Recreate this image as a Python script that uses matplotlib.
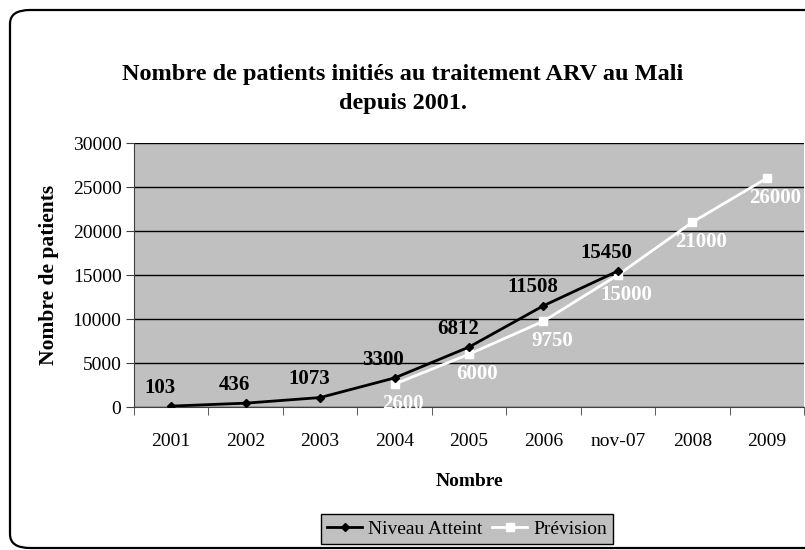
import numpy as np
import matplotlib.pyplot as plt
from matplotlib.patches import FancyBboxPatch

categories = ['2001', '2002', '2003', '2004', '2005', '2006', 'nov-07', '2008', '2009']
atteint = [103, 436, 1073, 3300, 6812, 11508, 15450]
prevision = [2600, 6000, 9750, 15000, 21000, 26000]
prev_start = 3
yticks = [0, 5000, 10000, 15000, 20000, 25000, 30000]

plt.rcParams['font.family'] = ['Liberation Serif', 'DejaVu Serif']

fig = plt.figure(figsize=(8.05, 5.5), dpi=100)
W, H = 805, 550

# cadre arrondi autour du graphique (le bord droit sort de l'image)
cadre = FancyBboxPatch((10 / W, 2 / H), 830 / W, 538 / H,
                       boxstyle='round,pad=0,rounding_size=0.025',
                       transform=fig.transFigure, fill=False,
                       edgecolor='black', linewidth=1.6, clip_on=False)
fig.patches.append(cadre)

ax = fig.add_axes([134 / W, (H - 407) / H, 670 / W, 264 / H])
ax.set_facecolor('#C0C0C0')

x1 = np.arange(len(atteint)) + 0.5
x2 = np.arange(prev_start, prev_start + len(prevision)) + 0.5

ax.plot(x1, atteint, '-', color='black', marker='D', markersize=4.5, linewidth=2,
        label='Niveau Atteint', zorder=4)
ax.plot(x2, prevision, '-', color='white', marker='s', markersize=5.5, linewidth=2,
        label='Prévision', zorder=3)

for x, v in zip(x1, atteint):
    ax.annotate(str(v), (x, v), xytext=(-8, 6), textcoords='offset points',
                ha='center', va='bottom', fontsize=15, fontweight='bold', color='black')
for x, v in zip(x2, prevision):
    ax.annotate(str(v), (x, v), xytext=(6, -7), textcoords='offset points',
                ha='center', va='top', fontsize=15, fontweight='bold', color='white')

ax.set_xlim(0, len(categories))
ax.set_ylim(0, 30000)
ax.set_yticks(yticks)
ax.set_yticklabels([str(t) for t in yticks], fontsize=14)
ax.set_xticks(np.arange(len(categories)) + 0.5)
ax.set_xticklabels(categories, fontsize=14)
ax.set_xticks(np.arange(len(categories) + 1), minor=True)
ax.tick_params(axis='x', which='major', length=0, pad=19)
ax.tick_params(axis='x', which='minor', length=6, color='#404040', direction='out')
ax.tick_params(axis='y', length=6, color='#404040', direction='out', pad=3)
ax.grid(axis='y', color='black', linewidth=1)
ax.set_axisbelow(True)
for s in ['top', 'right']:
    ax.spines[s].set_visible(False)
for s in ['left', 'bottom']:
    ax.spines[s].set_color('#404040')

ax.set_xlabel('Nombre', fontsize=14, fontweight='bold', labelpad=16)
ax.set_ylabel('Nombre de patients', fontsize=15.5, fontweight='bold', labelpad=10)

fig.text(0.5, 1 - 89 / H, 'Nombre de patients initiés au traitement ARV au Mali\ndepuis 2001.',
         ha='center', va='center', fontsize=17.5, fontweight='bold', linespacing=1.55)

leg = fig.legend(loc='center', bbox_to_anchor=(467 / W, 1 - 529 / H), ncol=2,
                 fontsize=14, frameon=True, fancybox=False, handlelength=1.8,
                 handletextpad=0.3, columnspacing=0.5, borderpad=0.3,
                 borderaxespad=0)
leg.get_frame().set_facecolor('#C0C0C0')
leg.get_frame().set_edgecolor('black')
leg.get_frame().set_alpha(1)

fig.savefig('out.png', dpi=100)
